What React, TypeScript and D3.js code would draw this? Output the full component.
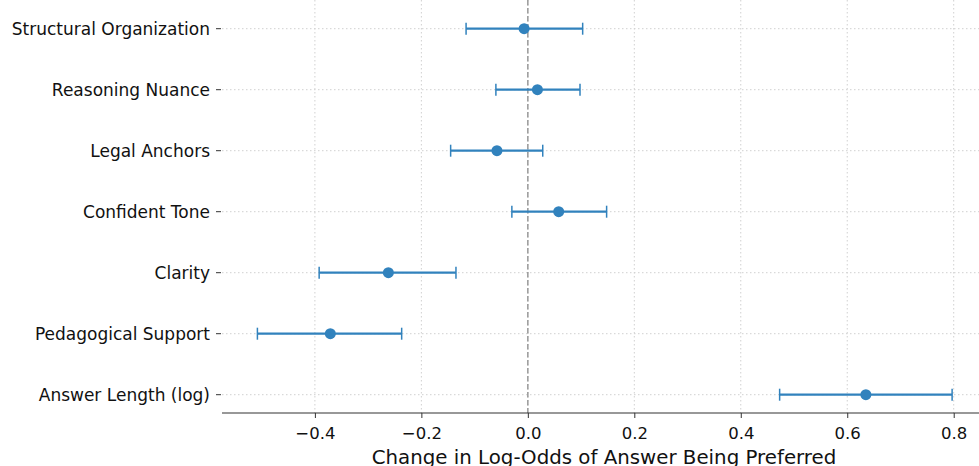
import { useEffect, useRef } from 'react'
import * as d3 from 'd3'

const FEATURES = [
  'Structural Organization',
  'Reasoning Nuance',
  'Legal Anchors',
  'Confident Tone',
  'Clarity',
  'Pedagogical Support',
  'Answer Length (log)'
]
const ESTIMATES = [-0.007, 0.018, -0.058, 0.058, -0.262, -0.371, 0.635]
const CI_LOW = [-0.116, -0.060, -0.145, -0.030, -0.392, -0.508, 0.473]
const CI_HIGH = [0.103, 0.098, 0.028, 0.148, -0.135, -0.237, 0.797]
const X_TICKS = [-0.4, -0.2, 0.0, 0.2, 0.4, 0.6, 0.8]

const WIDTH = 979
const HEIGHT = 466
const COLOR = '#3182bd'
const FONT = 'DejaVu Sans, sans-serif'

export default function App() {
  const ref = useRef<SVGSVGElement>(null)

  useEffect(() => {
    const svg = d3.select(ref.current)
    svg.selectAll('*').remove()

    const left = 222
    const right = 979
    const top = 0
    const bottom = 413

    const x = d3.scaleLinear().domain([-0.5745, 0.8475]).range([left, right])
    // categorical rows, first feature on top
    const y = d3.scaleLinear().domain([-0.3, FEATURES.length - 0.7]).range([bottom, bottom - 61 * (FEATURES.length - 0.4)])
    const rowY = (i: number) => y(FEATURES.length - 1 - i)

    const g = svg.append('g')

    // grid
    g.selectAll('line.vgrid')
      .data(X_TICKS)
      .join('line')
      .attr('x1', d => x(d)).attr('x2', d => x(d))
      .attr('y1', top).attr('y2', bottom)
      .attr('stroke', '#d0d0d0').attr('stroke-width', 1)
      .attr('stroke-dasharray', '1.5,2.5')

    g.selectAll('line.hgrid')
      .data(FEATURES)
      .join('line')
      .attr('x1', left).attr('x2', right)
      .attr('y1', (_, i) => rowY(i)).attr('y2', (_, i) => rowY(i))
      .attr('stroke', '#d0d0d0').attr('stroke-width', 1)
      .attr('stroke-dasharray', '1.5,2.5')

    // zero reference
    g.append('line')
      .attr('x1', x(0)).attr('x2', x(0))
      .attr('y1', top).attr('y2', bottom)
      .attr('stroke', '#999').attr('stroke-width', 1.5)
      .attr('stroke-dasharray', '5.5,2.5')

    // error bars
    const bars = g.selectAll('g.bar').data(FEATURES).join('g')
    bars.append('line')
      .attr('x1', (_, i) => x(CI_LOW[i])).attr('x2', (_, i) => x(CI_HIGH[i]))
      .attr('y1', (_, i) => rowY(i)).attr('y2', (_, i) => rowY(i))
      .attr('stroke', COLOR).attr('stroke-width', 2.2)
    bars.append('line')
      .attr('x1', (_, i) => x(CI_LOW[i])).attr('x2', (_, i) => x(CI_LOW[i]))
      .attr('y1', (_, i) => rowY(i) - 6).attr('y2', (_, i) => rowY(i) + 6)
      .attr('stroke', COLOR).attr('stroke-width', 1.5)
    bars.append('line')
      .attr('x1', (_, i) => x(CI_HIGH[i])).attr('x2', (_, i) => x(CI_HIGH[i]))
      .attr('y1', (_, i) => rowY(i) - 6).attr('y2', (_, i) => rowY(i) + 6)
      .attr('stroke', COLOR).attr('stroke-width', 1.5)
    bars.append('circle')
      .attr('cx', (_, i) => x(ESTIMATES[i]))
      .attr('cy', (_, i) => rowY(i))
      .attr('r', 5.5)
      .attr('fill', COLOR)

    // x axis
    const xAxis = d3.axisBottom(x)
      .tickValues(X_TICKS)
      .tickFormat(d3.format('.1f'))
      .tickSize(5)
      .tickPadding(4)
    const ax = g.append('g').attr('transform', `translate(0,${bottom})`).call(xAxis)
    ax.select('.domain').remove()
    ax.append('line')
      .attr('x1', left).attr('x2', right)
      .attr('stroke', '#333').attr('stroke-width', 1.2)
    ax.selectAll('.tick line').attr('stroke', '#333')
    ax.selectAll('.tick text')
      .attr('font-family', FONT).attr('font-size', 16.5).attr('fill', '#111')
      .attr('y', 26).attr('dy', null)
      .text(d => d3.format('.1f')(d as number).replace('-', '\u2212'))

    // y labels
    const yl = g.append('g')
    yl.selectAll('line')
      .data(FEATURES)
      .join('line')
      .attr('x1', left - 6).attr('x2', left - 1)
      .attr('y1', (_, i) => rowY(i)).attr('y2', (_, i) => rowY(i))
      .attr('stroke', '#333').attr('stroke-width', 1)
    yl.selectAll('text')
      .data(FEATURES)
      .join('text')
      .attr('x', left - 12)
      .attr('y', (_, i) => rowY(i))
      .attr('dy', '0.35em')
      .attr('text-anchor', 'end')
      .attr('font-family', FONT).attr('font-size', 17).attr('fill', '#111')
      .text(d => d)

    // axis title
    g.append('text')
      .attr('x', 604)
      .attr('y', 464)
      .attr('text-anchor', 'middle')
      .attr('font-family', FONT).attr('font-size', 19.8).attr('fill', '#111')
      .text('Change in Log-Odds of Answer Being Preferred')
  }, [])

  return (
    <svg
      ref={ref}
      width={WIDTH}
      height={HEIGHT}
      style={{ position: 'absolute', left: 0, top: 0, background: '#fff' }}
    />
  )
}
